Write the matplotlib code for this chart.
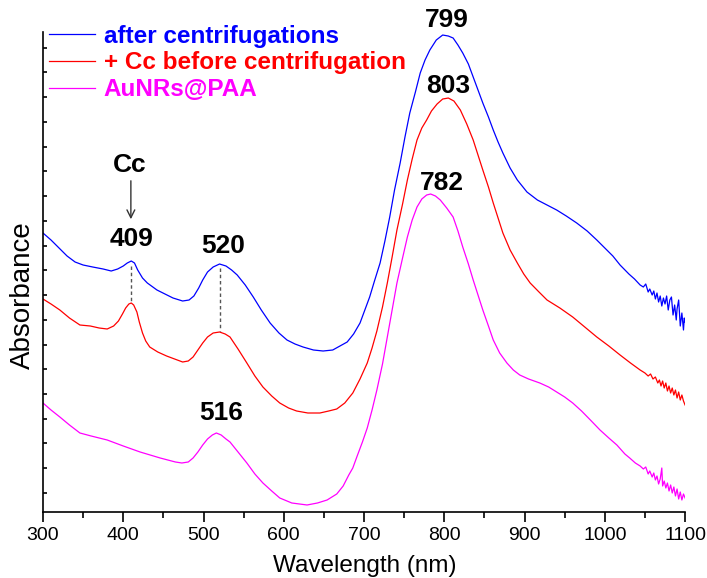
import matplotlib
matplotlib.use('Agg')
import matplotlib.pyplot as plt
import numpy as np

plt.rcParams['font.family'] = ['Liberation Sans', 'DejaVu Sans']

# wavelength (nm) / absorbance (a.u., curves stacked)
wl_blue = [300, 310, 320, 330, 340, 350, 362, 375, 385, 393, 400, 405, 410, 414, 418, 424, 430, 442,
           452, 462, 474, 482, 488, 494, 499, 505, 512, 520, 528, 535, 542, 552, 562, 572, 583, 594,
           604, 614, 624, 637, 649, 661, 670, 679, 687, 695, 701, 707, 713, 720, 726, 732, 738, 745,
           751, 757, 764, 770, 776, 782, 790, 798, 805, 811, 817, 823, 830, 836, 842, 848, 855, 861,
           867, 873, 882, 891, 903, 916, 928, 940, 952, 965, 978, 990, 1000, 1010, 1019, 1030, 1037,
           1044, 1048, 1051, 1054, 1056, 1059, 1061, 1063, 1065, 1067, 1069, 1071, 1073, 1075, 1077,
           1079, 1081, 1083, 1085, 1087, 1089, 1090, 1092, 1094, 1096, 1098, 1099, 1100]
abs_blue = [.279, .272, .264, .256, .250, .247, .245, .243, .241, .243, .246, .249, .251, .249, .242,
            .234, .229, .222, .218, .214, .211, .212, .216, .224, .232, .240, .245, .248, .246, .242,
            .237, .227, .215, .202, .189, .179, .172, .168, .165, .162, .161, .162, .166, .170, .178,
            .189, .202, .215, .231, .249, .271, .295, .322, .349, .375, .399, .420, .439, .452, .462,
            .472, .477, .476, .474, .467, .459, .448, .435, .422, .409, .395, .382, .370, .359, .344,
            .332, .320, .312, .307, .302, .296, .289, .281, .272, .264, .256, .247, .238, .233, .227,
            .225, .228, .220, .223, .217, .221, .213, .219, .210, .216, .206, .214, .208, .216, .202,
            .212, .215, .197, .207, .192, .203, .212, .186, .199, .182, .194, .190]

wl_red = [300, 310, 321, 333, 346, 359, 370, 380, 388, 394, 399, 403, 407, 410, 413, 417, 420, 424,
          428, 433, 443, 454, 464, 474, 481, 487, 493, 499, 505, 512, 520, 527, 533, 543, 554, 564,
          574, 585, 595, 606, 616, 630, 645, 656, 666, 676, 686, 695, 704, 710, 716, 723, 729, 735,
          741, 748, 754, 760, 766, 772, 778, 784, 791, 798, 805, 812, 820, 828, 836, 842, 848, 855,
          861, 867, 873, 882, 891, 899, 907, 918, 928, 944, 960, 975, 990, 1005, 1019, 1032, 1044,
          1050, 1054, 1057, 1060, 1063, 1066, 1068, 1070, 1072, 1074, 1076, 1078, 1080, 1082, 1084,
          1086, 1088, 1090, 1092, 1094, 1096, 1098, 1100]
abs_red = [.213, .208, .202, .194, .187, .186, .184, .183, .186, .191, .198, .204, .208, .209, .207,
           .200, .190, .179, .171, .165, .160, .156, .153, .150, .151, .155, .162, .169, .175, .179,
           .180, .178, .175, .163, .149, .136, .125, .116, .109, .104, .101, .099, .099, .101, .103,
           .109, .119, .133, .149, .164, .181, .205, .229, .255, .282, .308, .332, .353, .372, .384,
           .392, .401, .408, .413, .414, .411, .402, .388, .372, .357, .342, .325, .309, .294, .279,
           .262, .249, .238, .229, .220, .212, .204, .195, .185, .175, .166, .157, .149, .142, .139,
           .136, .138, .133, .135, .129, .132, .126, .131, .124, .129, .121, .126, .119, .124, .117,
           .122, .114, .120, .112, .117, .111, .107]

wl_mag = [300, 310, 321, 333, 346, 360, 380, 400, 421, 446, 465, 473, 481, 487, 493, 499, 505, 511,
          516, 522, 528, 533, 543, 554, 564, 574, 585, 595, 610, 629, 642, 654, 666, 674, 681, 686,
          691, 698, 704, 710, 716, 723, 729, 735, 741, 748, 754, 760, 766, 772, 778, 783, 789, 795,
          803, 811, 817, 823, 830, 836, 842, 848, 855, 861, 869, 878, 886, 894, 905, 919, 930, 940,
          950, 960, 971, 982, 994, 1005, 1015, 1025, 1031, 1038, 1044, 1048, 1051, 1054, 1056, 1059,
          1061, 1063, 1065, 1067, 1069, 1071, 1072, 1074, 1076, 1078, 1080, 1082, 1084, 1086, 1088,
          1090, 1092, 1094, 1096, 1098, 1100]
abs_mag = [.109, .102, .095, .087, .079, .076, .072, .066, .060, .054, .050, .049, .050, .054, .060,
           .067, .073, .077, .079, .077, .073, .070, .060, .049, .038, .029, .021, .014, .009, .007,
           .009, .012, .018, .026, .037, .044, .055, .070, .084, .102, .122, .148, .175, .202, .229,
           .254, .275, .292, .305, .313, .317, .318, .316, .312, .304, .295, .281, .265, .248, .232,
           .217, .202, .186, .172, .159, .149, .142, .137, .133, .129, .125, .120, .115, .109, .101,
           .092, .082, .074, .067, .058, .054, .049, .046, .043, .045, .038, .041, .035, .039, .032,
           .036, .028, .033, .044, .026, .031, .024, .029, .021, .027, .019, .025, .016, .023, .013,
           .020, .012, .018, .014]

labels = ['after centrifugations', '+ Cc before centrifugation', 'AuNRs@PAA']
colors = ['#0000FF', '#FF0000', '#FF00FF']

# peak labels: (text, x, y)
peak_labels = [('799', 803, 0.492), ('803', 805, 0.426), ('782', 797, 0.329),
               ('409', 410, 0.273), ('520', 524, 0.266), ('516', 522, 0.099)]
# dashed guides between blue and red peaks: (x, y_top, y_bottom)
guides = [(410, 0.246, 0.211), (520, 0.244, 0.181)]

fig = plt.figure(figsize=(7.07, 5.78), dpi=100)
ax = fig.add_axes([0.0608, 0.1142, 0.9082, 0.8304])

ax.plot(wl_blue, abs_blue, color=colors[0], lw=0.9, label=labels[0])
ax.plot(wl_red, abs_red, color=colors[1], lw=0.9, label=labels[1])
ax.plot(wl_mag, abs_mag, color=colors[2], lw=0.9, label=labels[2])

for x, y0, y1 in guides:
    ax.plot([x, x], [y0, y1], ls=(0, (2.5, 2)), color='#555555', lw=1)

for txt, x, y in peak_labels:
    ax.text(x, y, txt, ha='center', va='center', fontsize=19, fontweight='bold', clip_on=False)

ax.text(408, 0.347, 'Cc', ha='center', va='center', fontsize=19, fontweight='bold')
ax.annotate('', xy=(409.5, 0.290), xytext=(409.5, 0.334),
            arrowprops=dict(arrowstyle='->', color='#333333', lw=1, mutation_scale=14))

ax.set_xlim(300, 1100)
ax.set_ylim(0, 0.48)
ax.set_xticks(np.arange(300, 1101, 100))
ax.set_xticks(np.arange(350, 1100, 100), minor=True)
ax.set_yticks(np.arange(0.019, 0.47, 0.02475))
ax.set_yticklabels([])

ax.spines['top'].set_visible(False)
ax.spines['right'].set_visible(False)
ax.spines['left'].set_linewidth(1.2)
ax.spines['bottom'].set_linewidth(1.2)
ax.tick_params(axis='x', which='major', direction='out', length=7, width=1.2, labelsize=14, pad=4)
ax.tick_params(axis='x', which='minor', direction='out', length=4, width=1.2)
ax.tick_params(axis='y', which='major', direction='in', length=3, width=1.2)

fig.text(365 / 707, 6 / 578, 'Wavelength (nm)', ha='center', va='baseline', fontsize=17.5)
fig.text(23 / 707, 1 - 295 / 578, 'Absorbance', ha='center', va='center', rotation=90, fontsize=20)

leg = ax.legend(loc='upper left', bbox_to_anchor=(0.0093, 1.015), frameon=False,
                handlelength=1.9, handletextpad=0.35, labelspacing=0.15,
                borderaxespad=0, borderpad=0, prop={'weight': 'bold', 'size': 17.5},
                labelcolor='linecolor')

fig.savefig('out.png', dpi=100)
